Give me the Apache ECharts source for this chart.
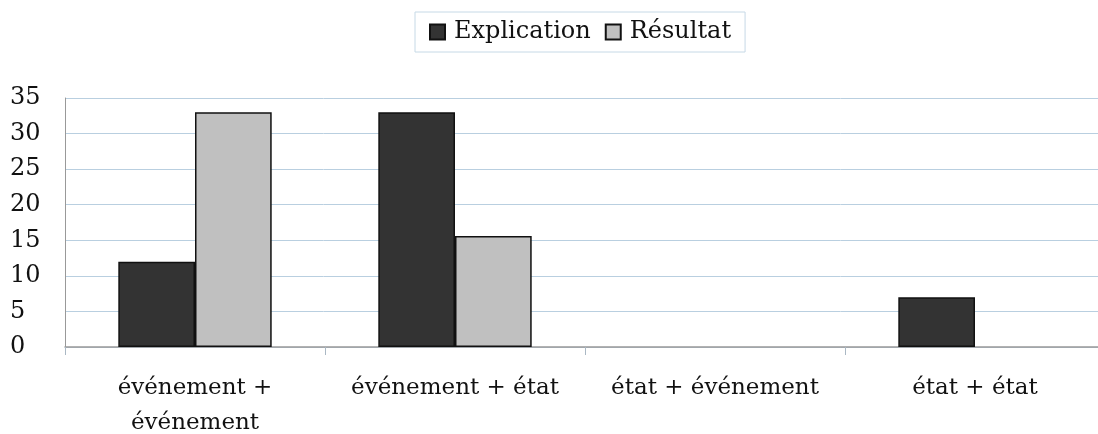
<!DOCTYPE html>
<html>
<head>
<meta charset="utf-8">
<script src="https://cdn.jsdelivr.net/npm/echarts@6/dist/echarts.min.js"></script>
<style>
  html, body { margin: 0; padding: 0; background: #fff; }
  #main { width: 1098px; height: 434px; }
</style>
</head>
<body>
<div id="main"></div>
<script>
var categories = ['événement +\névénement', 'événement + état', 'état + événement', 'état + état']
var explication = [12, 33, 0, 7]
var resultat = [33, 15.6, 0, 0]
var seriesNames = ['Explication', 'Résultat']

var chart = echarts.init(document.getElementById('main'))
var serif = '"DejaVu Serif", Georgia, serif'

// hide the outline on empty bars
function withBorders (values) {
  return values.map(function (v) {
    return { value: v, itemStyle: { borderWidth: v === 0 ? 0 : 1.5 } }
  })
}

chart.setOption({
  animation: false,
  backgroundColor: '#fff',
  legend: {
    top: 12,
    left: 415,
    padding: [8, 14, 8, 14],
    borderColor: '#c6d9e6',
    borderWidth: 1,
    icon: 'rect',
    itemWidth: 15,
    itemHeight: 15,
    itemGap: 14,
    textStyle: { fontFamily: serif, fontSize: 24, color: '#111', padding: [0, 0, 0, 4] },
    data: seriesNames
  },
  grid: { left: 65, right: -7, top: 98, bottom: 87, outerBoundsMode: 'none' },
  xAxis: {
    type: 'category',
    data: categories,
    axisLine: { lineStyle: { color: '#999', width: 1.5 } },
    axisTick: { show: true, interval: 0, length: 8, lineStyle: { color: '#aab8c4' } },
    axisLabel: { interval: 0, fontFamily: serif, fontSize: 23, color: '#111', margin: 24, lineHeight: 35 }
  },
  yAxis: {
    type: 'value',
    min: 0,
    max: 35,
    interval: 5,
    axisLine: { show: true, lineStyle: { color: '#999', width: 1 } },
    axisTick: { show: false },
    axisLabel: { fontFamily: serif, fontSize: 24, color: '#111', margin: 20, align: 'left', padding: [0, 0, 0, -35] },
    splitLine: { lineStyle: { color: '#b9cfe0', width: 1 } }
  },
  series: [
    {
      name: seriesNames[0],
      type: 'bar',
      data: withBorders(explication),
      barGap: '0%',
      barCategoryGap: '41%',
      itemStyle: { color: '#333333', borderColor: '#111', borderWidth: 1.5 }
    },
    {
      name: seriesNames[1],
      type: 'bar',
      data: withBorders(resultat),
      itemStyle: { color: '#c0c0c0', borderColor: '#111', borderWidth: 1.5 }
    }
  ]
})
</script>
</body>
</html>
